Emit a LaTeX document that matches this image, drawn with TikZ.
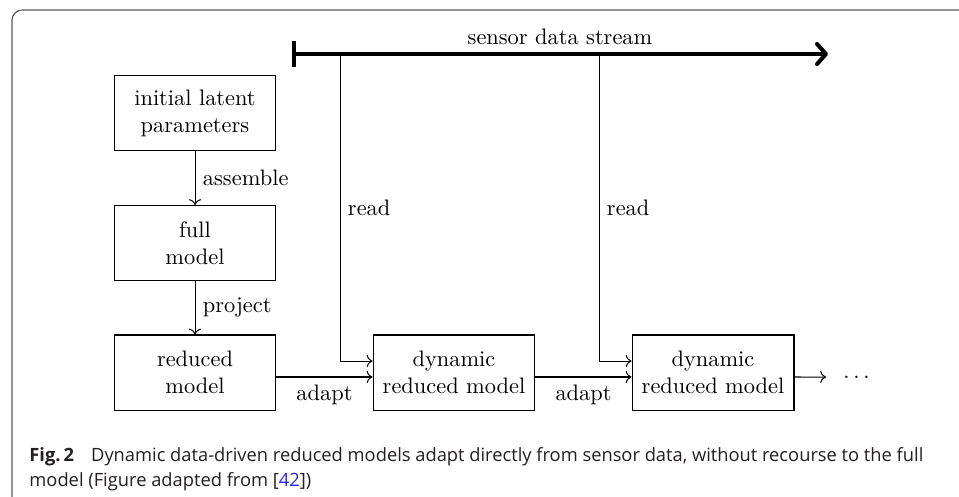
\documentclass[tikz,border=0pt]{standalone}
\usepackage{fontspec}
\newfontfamily\capfont{Open Sans}
\usetikzlibrary{arrows.meta}
\definecolor{capgray}{RGB}{35,31,32}
\definecolor{linkblue}{RGB}{40,40,230}
\definecolor{framegray}{RGB}{90,90,90}
\begin{document}
\begin{tikzpicture}[x=0.4464pt,y=-0.4464pt,
  box/.style={draw, line width=0.45pt, minimum width=72.3pt, minimum height=33.5pt, align=center, inner sep=2pt},
  conn/.style={->, line width=0.45pt},
  lbl/.style={inner sep=3.33pt},
  captext/.style={anchor=base west, inner sep=0pt, text=capgray, font=\capfont\fontsize{8.17}{10}\selectfont}]
\useasboundingbox (0,0) rectangle (959,496);
% frame
\draw[line width=0.5pt, draw=framegray, rounded corners=4.5pt] (12,497) -- (12,10) -- (960,10);
% sensor stream
\coordinate (ss) at (292,54);
\coordinate (se) at (828,54);
\coordinate (r1) at (340,54);
\coordinate (r2) at (599,54);
\draw[line width=1.8pt, {Bar[width=12pt]}-{Straight Barb[length=4pt,width=9pt,round]}] (ss) -- (se) node[midway, above, lbl] (sdl) {sensor data stream};
% boxes
\node[box] (b1) at (195,113) {initial latent\\parameters};
\node[box] (b2) at (195,243) {full\\model};
\node[box] (b3) at (195,372.5) {reduced\\model};
\node[box] (d1) at (454,372.5) {dynamic\\reduced model};
\node[box] (d2) at (713,372.5) {dynamic\\reduced model};
\node[anchor=west, inner xsep=7.6pt] (dots) at (826,377) {$\ldots$};
% connectors
\draw[conn] (b1) -- (b2) node[midway, right, lbl] {assemble};
\draw[conn] (b2) -- (b3) node[midway, right, lbl] {project};
\draw[conn] ([yshift=-2pt]b3.east) -- ([yshift=-2pt]d1.west) node[midway, below, lbl] {adapt};
\draw[conn] ([yshift=-2pt]d1.east) -- ([yshift=-2pt]d2.west) node[midway, below, lbl] {adapt};
\draw[conn] ([yshift=-2pt]d2.east) -- (dots.west);
\draw[conn] (r1) |- ([yshift=5.13pt]d1.west) node[pos=0.25, right, lbl] {read};
\draw[conn] (r2) |- ([yshift=5.13pt]d2.west) node[pos=0.25, right, lbl] {read};
% caption
\node[captext] (cap1) at (29,461) {\textbf{Fig.\,2}\hspace{7.6pt}Dynamic data-driven reduced models adapt directly from sensor data, without recourse to the full};
\node[captext] (cap2) at (29,486) {model (Figure adapted from [\textcolor{linkblue}{42}])};
\end{tikzpicture}
\end{document}
